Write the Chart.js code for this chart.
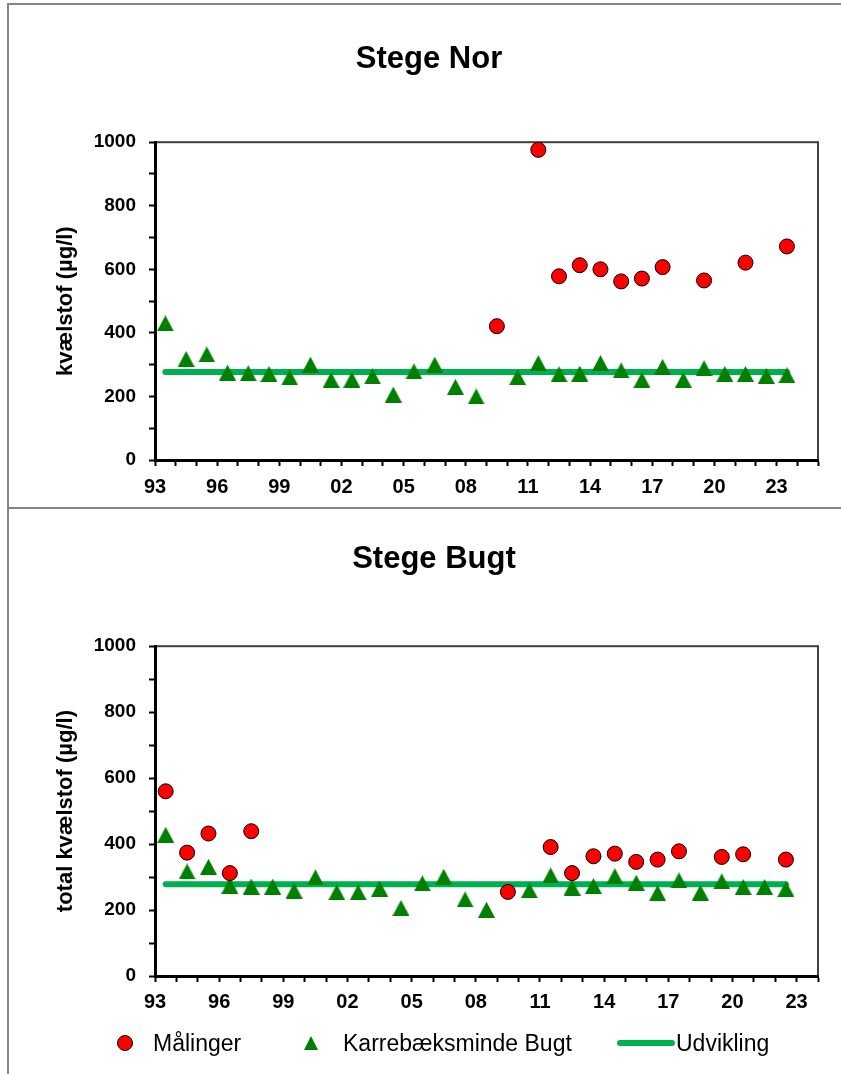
<!DOCTYPE html>
<html>
<head>
<meta charset="utf-8">
<script src="https://cdn.jsdelivr.net/npm/chart.js@4.4.1/dist/chart.umd.min.js"></script>
<style>
  body { margin: 0; background: #fff; width: 841px; height: 1074px; overflow: hidden; position: relative;
         font-family: "Liberation Sans", Arial, sans-serif; }
  canvas { position: absolute; left: 0; }
  #norChart { top: 0; }
  #bugtChart { top: 507px; }
  .rule { position: absolute; background: #858585; }
  .lg { position: absolute; }
  .lg-text { font-size: 23px; line-height: 26px; top: 1030px; color: #000; white-space: nowrap; }
</style>
</head>
<body>
<canvas id="norChart" width="841" height="505"></canvas>
<canvas id="bugtChart" width="841" height="567"></canvas>

<!-- outer frames of the two chart boxes -->
<div class="rule" style="left:7px; top:3px; width:2px; height:1071px;"></div>
<div class="rule" style="left:7px; top:3px; width:834px; height:2px;"></div>
<div class="rule" style="left:7px; top:507px; width:834px; height:2px;"></div>

<!-- legend -->
<div class="lg" style="left:117px; top:1035px; width:14px; height:14px; border:1px solid #000; border-radius:50%; background:#ff0000;"></div>
<div class="lg lg-text" style="left:153px;">Målinger</div>
<div class="lg" style="left:304px; top:1036px; width:0; height:0; border-left:7px solid transparent; border-right:7px solid transparent; border-bottom:14px solid #008000;"></div>
<div class="lg lg-text" style="left:343px;">Karrebæksminde Bugt</div>
<div class="lg" style="left:617px; top:1040px; width:58px; height:6px; border-radius:3px; background:#00b050;"></div>
<div class="lg lg-text" style="left:676px;">Udvikling</div>

<script>
// categories (years)
const yearsNor = ['93','94','95','96','97','98','99','00','01','02','03','04','05','06','07','08',
                  '09','10','11','12','13','14','15','16','17','18','19','20','21','22','23','24'];
const yearsBugt = ['93','94','95','96','97','98','99','00','01','02','03','04','05','06','07','08',
                   '09','10','11','12','13','14','15','16','17','18','19','20','21','22','23'];
const xTickLabels = ['93','96','99','02','05','08','11','14','17','20','23'];

// Stege Nor
const maalingerNor = [null, null, null, null, null, null, null, null, null, null, null, null, null, null, null, null,
                      421, null, 976, 578, 613, 600, 562, 571, 607, null, 565, null, 621, null, 672, null];
const karrebaekNor = [430, 318, 332, 275, 273, 271, 260, 300, 252, 253, 263, 206, 279, 300, 230, 200,
                      null, 261, 305, 270, 272, 305, 282, 252, 293, 252, 289, 271, 271, 265, 267, null];
const udviklingNor = 277;
const udviklingNorSpan = ['93', '23'];

// Stege Bugt
const maalingerBugt = [560, 374, 432, 312, 439, null, null, null, null, null, null, null, null, null, null, null,
                       255, null, 391, 312, 363, 371, 346, 353, 378, null, 361, 369, null, 353, null];
const karrebaekBugt = [428, 317, 331, 274, 271, 271, 259, 299, 254, 254, 265, 206, 281, 301, 232, 201,
                       null, 260, 305, 268, 273, 303, 283, 252, 290, 253, 287, 270, 270, 264, null];
const udviklingBugt = 278;
const udviklingBugtSpan = ['93', '22'];

const FONT = '"Liberation Sans", Arial, sans-serif';
const PLOT_LEFT = 155, PLOT_RIGHT = 818;

// triangle marker, centred on its box like the spreadsheet marker
function triangleMarker(w, h, color) {
    const c = document.createElement('canvas');
    c.width = w;
    c.height = h;
    const g = c.getContext('2d');
    g.fillStyle = color;
    g.beginPath();
    g.moveTo(w / 2, 0);
    g.lineTo(w, h);
    g.lineTo(0, h);
    g.closePath();
    g.fill();
    return c;
}
const greenTriangle = triangleMarker(17, 16, '#008000');

// dark frame round the plot area (axes are drawn over it)
const plotFrame = {
    id: 'plotFrame',
    beforeDraw(chart) {
        const { ctx, chartArea: a } = chart;
        ctx.save();
        ctx.strokeStyle = '#404040';
        ctx.lineWidth = 2;
        ctx.strokeRect(a.left, a.top, a.right - a.left, a.bottom - a.top);
        ctx.restore();
    }
};

function makeChart(id, o) {
    const halfCat = (PLOT_RIGHT - PLOT_LEFT) / o.years.length / 2;
    return new Chart(document.getElementById(id), {
        type: 'line',
        data: {
            labels: o.years,
            datasets: [{
                label: 'Målinger',
                data: o.maalinger,
                showLine: false,
                pointStyle: 'circle',
                pointRadius: 7.5,
                pointBackgroundColor: '#ff0000',
                pointBorderColor: '#000',
                pointBorderWidth: 1
            }, {
                label: 'Karrebæksminde Bugt',
                data: o.karrebaek,
                showLine: false,
                pointStyle: greenTriangle,
                pointRadius: 9
            }, {
                label: 'Udvikling',
                data: o.trendSpan.map(x => ({ x: x, y: o.trend })),
                borderColor: '#00b050',
                borderWidth: 6,
                borderCapStyle: 'round',
                pointRadius: 0
            }]
        },
        options: {
            responsive: false,
            animation: false,
            devicePixelRatio: 1,
            events: [],
            layout: { padding: { left: o.padLeft, right: 841 - PLOT_RIGHT, top: 0, bottom: o.padBottom } },
            plugins: {
                legend: { display: false },
                tooltip: { enabled: false },
                title: {
                    display: true,
                    text: o.title,
                    color: '#000',
                    font: { family: FONT, size: 31, weight: 'bold', lineHeight: 1.2 },
                    padding: { top: o.titleTop, bottom: o.titleBottom }
                }
            },
            scales: {
                x: {
                    type: 'category',
                    offset: true,
                    grid: { offset: true, drawOnChartArea: false, tickLength: 6, tickWidth: 2, tickColor: '#000' },
                    border: { color: '#000', width: 3 },
                    ticks: {
                        autoSkip: false,
                        maxRotation: 0,
                        labelOffset: -halfCat,
                        padding: o.xPad,
                        color: '#000',
                        font: { family: FONT, size: 20, weight: 'bold' },
                        callback: function (v) {
                            const l = this.getLabelForValue(v);
                            return xTickLabels.includes(l) ? l : '';
                        }
                    },
                    afterFit: s => { s.height = 45; }
                },
                y: {
                    min: 0,
                    max: 1000,
                    grid: { drawOnChartArea: false, tickLength: 6, tickWidth: 2, tickColor: '#000' },
                    border: { color: '#000', width: 3 },
                    ticks: {
                        stepSize: 100,
                        padding: 13,
                        color: '#000',
                        font: { family: FONT, size: 19, weight: 'bold' },
                        callback: v => (v % 200 === 0 ? v : '')
                    },
                    title: {
                        display: true,
                        text: o.yTitle,
                        color: '#000',
                        font: { family: FONT, size: 22, weight: 'bold', lineHeight: 1.2 },
                        padding: { top: 53 - o.padLeft, bottom: 0 }
                    },
                    afterFit: s => { s.width = PLOT_LEFT - o.padLeft; }
                }
            }
        },
        plugins: [plotFrame]
    });
}

makeChart('norChart', {
    title: 'Stege Nor',
    yTitle: 'kvælstof (µg/l)',
    years: yearsNor,
    maalinger: maalingerNor,
    karrebaek: karrebaekNor,
    trend: udviklingNor,
    trendSpan: udviklingNorSpan,
    padLeft: 40,
    titleTop: 41,
    titleBottom: 64,
    padBottom: 0,
    xPad: 9
});

makeChart('bugtChart', {
    title: 'Stege Bugt',
    yTitle: 'total kvælstof (µg/l)',
    years: yearsBugt,
    maalinger: maalingerBugt,
    karrebaek: karrebaekBugt,
    trend: udviklingBugt,
    trendSpan: udviklingBugtSpan,
    padLeft: 50,
    titleTop: 34,
    titleBottom: 68,
    padBottom: 53,
    xPad: 8
});
</script>
</body>
</html>
